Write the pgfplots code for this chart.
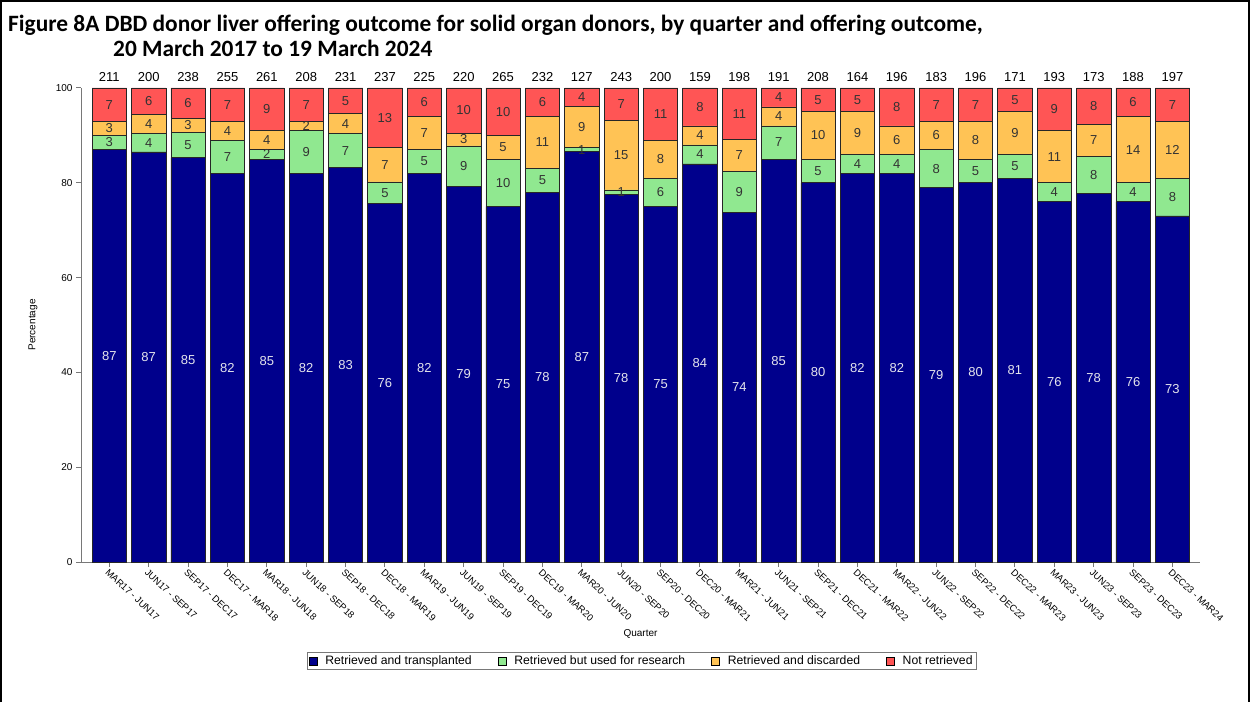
\documentclass[border=0pt]{standalone}
\usepackage{pgfplots}
\pgfplotsset{compat=1.18}
\usepackage{pgfplotstable}
\usepackage{fontspec}
\setmainfont{Liberation Sans}
\newfontfamily\titlefont{Carlito}
\definecolor{cblue}{RGB}{0,0,140}
\definecolor{cgreen}{RGB}{144,232,144}
\definecolor{cyellow}{RGB}{255,195,85}
\definecolor{cred}{RGB}{255,85,85}
\definecolor{clabel}{RGB}{228,228,236}
\definecolor{caxis}{RGB}{120,120,120}
\pgfplotstableread{
x b g y r n lb lg ly lr
0 87 3 3 7 211 87 3 3 7
1 86.5 3.9 4.0 5.6 200 87 4 4 6
2 85.3 5.3 3.0 6.4 238 85 5 3 6
3 82 7 4 7 255 82 7 4 7
4 85 2 4 9 261 85 2 4 9
5 82 9 2 7 208 82 9 2 7
6 83.2 7.2 4.2 5.4 231 83 7 4 5
7 75.6 4.6 7.2 12.6 237 76 5 7 13
8 82 5 7 6 225 82 5 7 6
9 79.2 8.6 2.7 9.5 220 79 9 3 10
10 75 10 5 10 265 75 10 5 10
11 78 5 11 6 232 78 5 11 6
12 86.6 0.8 8.8 3.8 127 87 1 9 4
13 77.6 0.9 14.7 6.8 243 78 1 15 7
14 75 6 8 11 200 75 6 8 11
15 84 4 4 8 159 84 4 4 8
16 73.8 8.6 6.8 10.8 198 74 9 7 11
17 85 7 4 4 191 85 7 4 4
18 80 5 10 5 208 80 5 10 5
19 82 4 9 5 164 82 4 9 5
20 82 4 6 8 196 82 4 6 8
21 79 8 6 7 183 79 8 6 7
22 80 5 8 7 196 80 5 8 7
23 81 5 9 5 171 81 5 9 5
24 76 4 11 9 193 76 4 11 9
25 77.8 7.8 6.8 7.6 173 78 8 7 8
26 76 4 14 6 188 76 4 14 6
27 73 8 12 7 197 73 8 12 7
}\datatable
\pgfplotsset{
  common/.style={at={(81pt,140pt)}, anchor=south west,
    scale only axis, width=1119pt, height=474pt,
    xmin=-0.72, xmax=27.7, ymin=0, ymax=100},
}
\tikzset{
  seglabel/.style={anchor=center, text=black!80, font=\fontsize{13}{13}\selectfont},
}
\begin{document}
\begin{tikzpicture}
\path[use as bounding box] (0,0) rectangle (1250pt,702pt);
\draw[line width=2pt] (1pt,0) -- (1pt,701pt) -- (1249pt,701pt) -- (1249pt,0);
\node[anchor=north west, inner sep=0pt, align=left, font=\titlefont\bfseries\fontsize{23.4}{25}\selectfont] at (8pt,687pt)
  {Figure 8A DBD donor liver offering outcome for solid organ donors, by quarter and offering outcome,\\
   \hspace{105pt}20 March 2017 to 19 March 2024};
\begin{axis}[common,
  ybar stacked, bar width=34.4pt,
  axis lines*=left,
  axis line style={caxis, line width=1pt},
  tick style={caxis, line width=1pt},
  tick align=outside, major tick length=5pt,
  ytick={0,20,40,60,80,100},
  xtick={0,...,27},
  xticklabels={MAR17 - JUN17, JUN17 - SEP17, SEP17 - DEC17, DEC17 - MAR18, MAR18 - JUN18, JUN18 - SEP18, SEP18 - DEC18, DEC18 - MAR19, MAR19 - JUN19, JUN19 - SEP19, SEP19 - DEC19, DEC19 - MAR20, MAR20 - JUN20, JUN20 - SEP20, SEP20 - DEC20, DEC20 - MAR21, MAR21 - JUN21, JUN21 - SEP21, SEP21 - DEC21, DEC21 - MAR22, MAR22 - JUN22, JUN22 - SEP22, SEP22 - DEC22, DEC22 - MAR23, MAR23 - JUN23, JUN23 - SEP23, SEP23 - DEC23, DEC23 - MAR24},
  xticklabel style={font=\fontsize{9.5}{9.5}\selectfont, rotate=-43, anchor=north west, inner sep=1pt},
  yticklabel style={font=\fontsize{10}{10}\selectfont},
  /pgf/number format/assume math mode=true,
  xlabel={Quarter}, ylabel={Percentage},
  every axis x label/.style={at={(axis description cs:0.5,-0.152)}, anchor=center, font=\fontsize{10}{10}\selectfont},
  every axis y label/.style={at={(axis description cs:-0.043,0.5)}, rotate=90, anchor=center, font=\fontsize{10}{10}\selectfont},
  legend style={at={(0.501,-0.209)}, anchor=center, legend columns=4, draw=caxis, line width=0.8pt,
    font=\fontsize{12.2}{12.5}\selectfont, inner sep=1.5pt,
    /tikz/every odd column/.append style={column sep=6pt},
    /tikz/every even column/.append style={column sep=24pt}},
  legend image code/.code={\draw[#1, draw=black, line width=0.6pt] (0pt,-4pt) rectangle (8pt,4pt);},
]
\addplot[fill=cblue, draw=black!85, line width=0.6pt, nodes near coords, point meta=explicit symbolic,
  every node near coord/.style={seglabel, text=clabel}]
  table[x=x, y=b, meta=lb]{\datatable};
\addlegendentry{Retrieved and transplanted}
\addplot[fill=cgreen, draw=black!85, line width=0.6pt, nodes near coords, point meta=explicit symbolic,
  every node near coord/.style={seglabel}]
  table[x=x, y=g, meta=lg]{\datatable};
\addlegendentry{Retrieved but used for research}
\addplot[fill=cyellow, draw=black!85, line width=0.6pt, nodes near coords, point meta=explicit symbolic,
  every node near coord/.style={seglabel}]
  table[x=x, y=y, meta=ly]{\datatable};
\addlegendentry{Retrieved and discarded}
\addplot[fill=cred, draw=black!85, line width=0.6pt, nodes near coords, point meta=explicit symbolic,
  every node near coord/.style={seglabel}]
  table[x=x, y=r, meta=lr]{\datatable};
\addlegendentry{Not retrieved}
\end{axis}
\begin{axis}[common,
  axis x line*=top, axis y line=none,
  axis line style={draw=none},
  xtick={0,...,27}, ytick=\empty,
  major tick length=0pt,
  xticklabels from table={\datatable}{n},
  xticklabel style={font=\fontsize{13}{13}\selectfont, inner sep=2.5pt, yshift=4pt},
  /pgf/number format/assume math mode=true,
]
\end{axis}
\end{tikzpicture}
\end{document}
